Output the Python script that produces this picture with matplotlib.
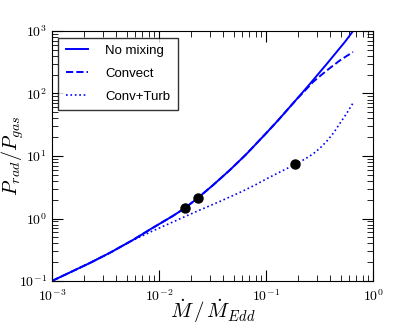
import numpy as np
import matplotlib
matplotlib.use('Agg')
import matplotlib.pyplot as plt
from matplotlib.ticker import FuncFormatter, NullFormatter

plt.rcParams['mathtext.fontset'] = 'cm'
plt.rcParams['font.family'] = ['Liberation Sans', 'DejaVu Sans']

# accretion rate (Mdot/Mdot_Edd) and pressure ratio for each model
mdot_nomix = [0.001, 0.00226, 0.0035, 0.00571, 0.0085, 0.0135, 0.0175, 0.0231, 0.032, 0.046,
              0.065, 0.1, 0.13, 0.167, 0.195, 0.25, 0.3, 0.37, 0.45, 0.55, 0.65]
prat_nomix = [0.1, 0.194, 0.284, 0.453, 0.688, 1.10, 1.47, 2.13, 3.42, 5.97,
              10.56, 23.0, 37.4, 60.9, 82.4, 134.7, 195, 298, 448, 680, 1000]

mdot_conv = [0.001, 0.00226, 0.0035, 0.00571, 0.0085, 0.0135, 0.0175, 0.0231, 0.032, 0.046,
             0.065, 0.1, 0.13, 0.167, 0.195, 0.208, 0.24, 0.275, 0.33, 0.396, 0.5, 0.65]
prat_conv = [0.1, 0.194, 0.284, 0.453, 0.688, 1.10, 1.47, 2.13, 3.42, 5.97,
             10.56, 23.0, 37.4, 60.9, 82.4, 92, 119, 153, 199, 256, 347, 461]

mdot_turb = [0.001, 0.00226, 0.0035, 0.0054, 0.0085, 0.0135, 0.0185, 0.0242, 0.0372, 0.06,
             0.08, 0.1, 0.135, 0.186, 0.23, 0.275, 0.32, 0.372, 0.43, 0.492, 0.56, 0.65]
prat_turb = [0.1, 0.194, 0.284, 0.43, 0.618, 0.88, 1.12, 1.37, 1.88, 2.72,
             3.47, 4.27, 5.54, 7.3, 8.9, 10.8, 13.4, 17.5, 23.7, 33.7, 46.5, 70.5]

# marked points
mdot_pts = [0.0175, 0.0231, 0.186]
prat_pts = [1.47, 2.13, 7.45]

fig = plt.figure(figsize=(4.15, 3.26), dpi=100)
ax = fig.add_axes([0.125, 0.138, 0.774, 0.767])

ax.loglog(mdot_nomix, prat_nomix, '-', color='blue', lw=1.4, label='No mixing')
ax.loglog(mdot_conv, prat_conv, '--', color='blue', lw=1.4, label='Convect')
ax.loglog(mdot_turb, prat_turb, ':', color='blue', lw=1.2, label='Conv+Turb')
ax.plot(mdot_pts, prat_pts, 'o', color='black', ms=6.5, zorder=5)

ax.set_xlim(1e-3, 1)
ax.set_ylim(0.1, 1000)
fmt = FuncFormatter(lambda v, p: r'$10^{%d}$' % int(round(np.log10(v))))
for axis in (ax.xaxis, ax.yaxis):
    axis.set_major_formatter(fmt)
    axis.set_minor_formatter(NullFormatter())
ax.tick_params(which='both', direction='in', top=True, right=True, labelsize=10)
ax.tick_params(which='major', length=8)
ax.tick_params(which='minor', length=4)
ax.tick_params(axis='x', pad=5)

ax.set_xlabel(r'$\dot{M}\,/\,\dot{M}_{Edd}$', fontsize=15)
ax.set_ylabel(r'$P_{rad}/P_{gas}$', fontsize=14.5)
ax.xaxis.set_label_coords(0.5, -0.065)
ax.yaxis.set_label_coords(-0.08, 0.5)

leg = ax.legend(loc='upper left', fancybox=False, edgecolor='black', fontsize=9.5,
                handlelength=1.7, labelspacing=0.8, borderpad=0.55, handletextpad=1.3,
                borderaxespad=0.5)
leg.get_frame().set_linewidth(1.0)

fig.savefig('out.png', dpi=100)
